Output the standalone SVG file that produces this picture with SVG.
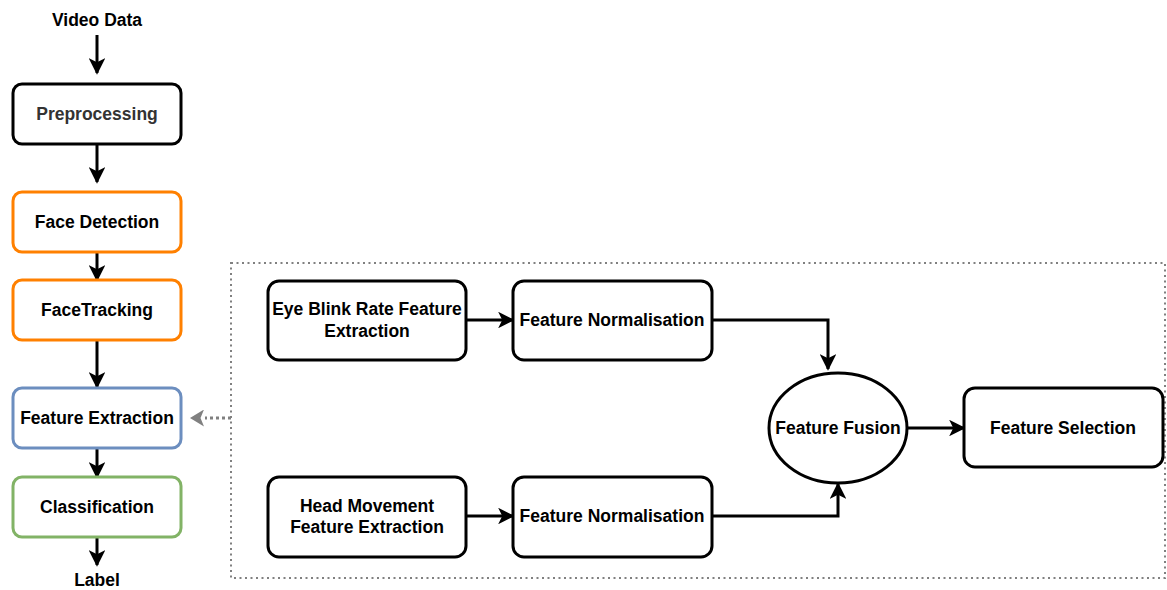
<svg xmlns="http://www.w3.org/2000/svg" width="1167" height="590" viewBox="0 0 1167 590">
  <style>
    text { font-family: "Liberation Sans", Arial, sans-serif; font-weight: bold; font-size: 17.5px; fill: #000; text-anchor: middle; dominant-baseline: central; }
    .box { fill: #fff; stroke: #000; stroke-width: 3; }
    .orange { stroke: #FF8000; }
    .blue { stroke: #6C8EBF; }
    .green { stroke: #82B366; }
    .edge { fill: none; stroke: #000; stroke-width: 3; }
    .dotted { fill: none; stroke: #808080; stroke-width: 2; stroke-dasharray: 2 3.5; }
  </style>
  <defs>
    <marker id="arrow" viewBox="0 0 10 10" refX="9" refY="5" markerWidth="5.5" markerHeight="5.5" orient="auto" markerUnits="strokeWidth">
      <path d="M0,0 L10,5 L0,10 L2.5,5 Z" fill="#000"/>
    </marker>
    <marker id="arrowGray" viewBox="0 0 14 17" refX="13" refY="8.5" markerWidth="14" markerHeight="17" orient="auto" markerUnits="userSpaceOnUse">
      <path d="M0,0 L14,8.5 L0,17 L3.5,8.5 Z" fill="#808080"/>
    </marker>
  </defs>

  <!-- dotted container around the feature sub-pipeline -->
  <rect id="container" class="dotted" x="231" y="263" width="934" height="315"/>

  <g id="connectors">
    <line class="edge" x1="97" y1="35" x2="97" y2="73" marker-end="url(#arrow)"/>
    <line class="edge" x1="97" y1="144" x2="97" y2="182" marker-end="url(#arrow)"/>
    <line class="edge" x1="97" y1="252" x2="97" y2="280" marker-end="url(#arrow)"/>
    <line class="edge" x1="97" y1="340" x2="97" y2="387" marker-end="url(#arrow)"/>
    <line class="edge" x1="97" y1="448" x2="97" y2="477" marker-end="url(#arrow)"/>
    <line class="edge" x1="97" y1="537" x2="97" y2="565" marker-end="url(#arrow)"/>
    <line x1="231" y1="418" x2="205" y2="418" stroke="#808080" stroke-width="3" stroke-dasharray="3 3" fill="none"/>
    <line x1="206" y1="418" x2="191" y2="418" stroke="none" fill="none" marker-end="url(#arrowGray)"/>
    <line class="edge" x1="466" y1="320" x2="513" y2="320" marker-end="url(#arrow)"/>
    <line class="edge" x1="466" y1="516" x2="513" y2="516" marker-end="url(#arrow)"/>
    <polyline class="edge" points="712,320 828,320 828,369" marker-end="url(#arrow)"/>
    <polyline class="edge" points="712,516 838,516 838,484" marker-end="url(#arrow)"/>
    <line class="edge" x1="907" y1="428" x2="964" y2="428" marker-end="url(#arrow)"/>
  </g>

  <g id="video-data"><text x="97" y="20">Video Data</text></g>
  <g id="preprocessing">
    <rect class="box" x="13" y="84" width="168" height="60" rx="9"/>
    <text x="97" y="114" style="fill:#333333">Preprocessing</text>
  </g>
  <g id="face-detection">
    <rect class="box orange" x="13" y="192" width="168" height="60" rx="9"/>
    <text x="97" y="222">Face Detection</text>
  </g>
  <g id="face-tracking">
    <rect class="box orange" x="13" y="280" width="168" height="60" rx="9"/>
    <text x="97" y="310">FaceTracking</text>
  </g>
  <g id="feature-extraction">
    <rect class="box blue" x="13" y="388" width="168" height="60" rx="9"/>
    <text x="97" y="418">Feature Extraction</text>
  </g>
  <g id="classification">
    <rect class="box green" x="13" y="477" width="168" height="60" rx="9"/>
    <text x="97" y="507">Classification</text>
  </g>
  <g id="label"><text x="97" y="580">Label</text></g>

  <g id="eye-blink">
    <rect class="box" x="268" y="281" width="198" height="79" rx="11"/>
    <text x="367" y="309">Eye Blink Rate Feature</text>
    <text x="367" y="331">Extraction</text>
  </g>
  <g id="normalisation-top">
    <rect class="box" x="513" y="281" width="199" height="79" rx="11"/>
    <text x="612" y="320">Feature Normalisation</text>
  </g>
  <g id="head-movement">
    <rect class="box" x="268" y="477" width="198" height="80" rx="11"/>
    <text x="367" y="506">Head Movement</text>
    <text x="367" y="527">Feature Extraction</text>
  </g>
  <g id="normalisation-bottom">
    <rect class="box" x="513" y="477" width="199" height="80" rx="11"/>
    <text x="612" y="516">Feature Normalisation</text>
  </g>
  <g id="feature-fusion">
    <ellipse class="box" cx="838" cy="428" rx="69" ry="55"/>
    <text x="838" y="428">Feature Fusion</text>
  </g>
  <g id="feature-selection">
    <rect class="box" x="964" y="388" width="199" height="79" rx="11"/>
    <text x="1063" y="428">Feature Selection</text>
  </g>
</svg>
